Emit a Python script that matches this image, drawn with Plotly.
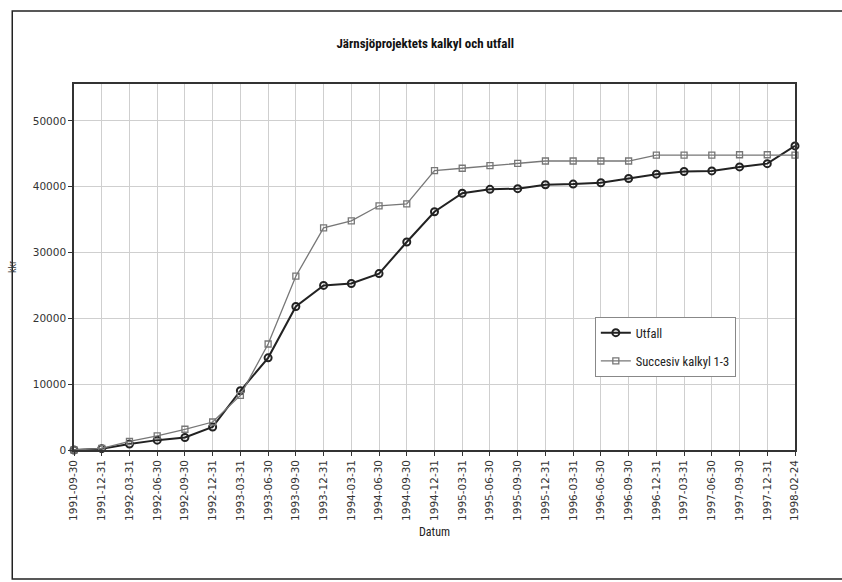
import plotly.graph_objects as go

dates = ["1991-09-30", "1991-12-31", "1992-03-31", "1992-06-30", "1992-09-30",
         "1992-12-31", "1993-03-31", "1993-06-30", "1993-09-30", "1993-12-31",
         "1994-03-31", "1994-06-30", "1994-09-30", "1994-12-31", "1995-03-31",
         "1995-06-30", "1995-09-30", "1995-12-31", "1996-03-31", "1996-06-30",
         "1996-09-30", "1996-12-31", "1997-03-31", "1997-06-30", "1997-09-30",
         "1997-12-31", "1998-02-24"]

utfall = [0, 200, 900, 1500, 1900, 3500, 9000, 14000, 21800, 25000,
          25300, 26800, 31600, 36200, 39000, 39600, 39700, 40300, 40400, 40600,
          41250, 41900, 42300, 42400, 43000, 43500, 46200]

succesiv = [0, 250, 1300, 2150, 3150, 4250, 8300, 16100, 26400, 33750,
            34800, 37100, 37400, 42450, 42800, 43200, 43550, 43900, 43900, 43900,
            43900, 44800, 44800, 44800, 44850, 44850, 44800]

yticks = [0, 10000, 20000, 30000, 40000, 50000]

NARROW = "Liberation Sans Narrow, Arial Narrow, Roboto Condensed, sans-serif"
TICKF = "DejaVu Sans, Verdana, sans-serif"

fig = go.Figure()
fig.add_trace(go.Scatter(
    x=dates, y=utfall, name="Utfall", mode="lines+markers", legendgroup="a",
    line=dict(color="#222222", width=2),
    marker=dict(symbol="circle-open", size=7, color="#222222", line=dict(width=2)),
    cliponaxis=False,
))
fig.add_trace(go.Scatter(
    x=dates, y=succesiv, name="Succesiv kalkyl 1-3", mode="lines+markers", legendgroup="b",
    line=dict(color="#777777", width=1.3),
    marker=dict(symbol="square-open", size=6, color="#777777", line=dict(width=1.3)),
    cliponaxis=False,
))

L, R, T, B = 71, 47, 84, 132
W, H = 842, 582
pw = W - L - R
ph = H - T - B

def px(x):
    return (x - L) / pw

def py(y):
    return (H - B - y) / ph

fig.update_layout(
    width=W, height=H,
    margin=dict(l=L, r=R, t=T, b=B),
    paper_bgcolor="white", plot_bgcolor="white",
    font=dict(family="Liberation Sans, Arial, sans-serif", size=11, color="#222222"),
    title=dict(text="<b>Järnsjöprojektets kalkyl och utfall</b>",
               x=0.505, xanchor="center", y=1 - 43 / H, yanchor="middle",
               font=dict(family=NARROW, size=13, color="#111111")),
    xaxis=dict(
        type="category", range=[0, len(dates) - 1], tickangle=-90,
        showgrid=True, gridcolor="#cfcfcf", gridwidth=1,
        showline=True, linecolor="#333333", linewidth=1.5, mirror=True,
        ticks="outside", ticklen=4, tickcolor="#333333",
        tickfont=dict(family=TICKF, size=10.5, color="#333333"),
        title=dict(text="Datum", standoff=8,
                   font=dict(family=NARROW, size=12, color="#222222")),
        zeroline=False,
    ),
    yaxis=dict(
        range=[0, 55600], tickvals=yticks,
        ticktext=[str(v) for v in yticks],
        showgrid=True, gridcolor="#cfcfcf", gridwidth=1,
        showline=True, linecolor="#333333", linewidth=1.5, mirror=True,
        ticks="outside", ticklen=4, tickcolor="#333333",
        tickfont=dict(family=TICKF, size=10.5, color="#333333"),
        title=dict(text="kkr", standoff=14,
                   font=dict(family=NARROW, size=10, color="#333333")),
        zeroline=False,
    ),
    legend=dict(
        x=px(594), y=py(317), xanchor="left", yanchor="top",
        bgcolor="white", bordercolor="#888888", borderwidth=1,
        font=dict(family=NARROW, size=12.5, color="#222222"),
        tracegroupgap=9, itemwidth=30,
    ),
    showlegend=True,
)

# outer chart-area border (left, top, bottom visible)
fig.add_shape(type="rect", xref="paper", yref="paper",
              x0=px(9), x1=px(850), y0=py(579), y1=py(11),
              line=dict(color="#222222", width=1.5), fillcolor="rgba(0,0,0,0)",
              layer="below")

fig.write_html("out.html", config={"displayModeBar": False},
               post_script="document.body.style.margin='0';document.body.style.overflow='hidden';")
